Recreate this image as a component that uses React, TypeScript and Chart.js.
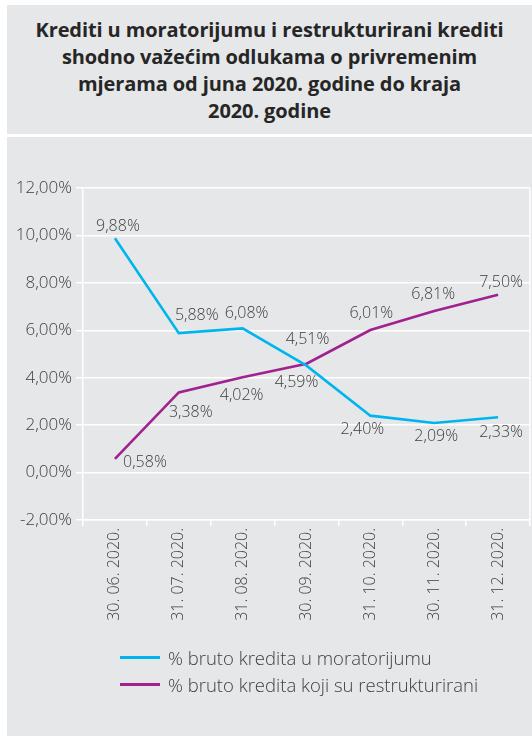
import React, { useEffect, useRef } from "react";
import { Chart, registerables } from "chart.js";

Chart.register(...registerables);

const titleLines = [
  "Krediti u moratorijumu i restrukturirani krediti",
  "shodno važećim odlukama o privremenim",
  "mjerama od juna 2020. godine do kraja",
  "2020. godine",
];
const categories = [
  "30. 06. 2020.",
  "31. 07. 2020.",
  "31. 08. 2020.",
  "30. 09. 2020.",
  "31. 10. 2020.",
  "30. 11. 2020.",
  "31. 12. 2020.",
];
const seriesNames = [
  "% bruto kredita u moratorijumu",
  "% bruto kredita koji su restrukturirani",
];
const moratoriumValues = [9.88, 5.88, 6.08, 4.51, 2.4, 2.09, 2.33];
const restructuredValues = [0.58, 3.38, 4.02, 4.59, 6.01, 6.81, 7.5];
const yMin = -2;
const yMax = 12;
const yStep = 2;

// label offsets (style only), [dx, dy] in px relative to each point
const moratoriumLabelOffsets = [
  [3, -12], [18, -18], [4, -15], [1, -26], [-8, 14], [2, 13], [3, 15],
];
const restructuredLabelOffsets = [
  [30, 4], [12, 20], [-1, 18], [-10, 19], [1, -17], [-1, -17], [3, -12],
];

const BLUE = "#00b5ef";
const PURPLE = "#a0218f";
const PANEL = "#e6e7e8";
const TEXT = "#404040";
const FONT = "'Open Sans', 'Noto Sans', sans-serif";

const fmt = (v: number) => v.toFixed(2).replace(".", ",") + "%";

export default function App() {
  const ref = useRef<HTMLCanvasElement | null>(null);

  useEffect(() => {
    if (!ref.current) return;
    const offsets = [moratoriumLabelOffsets, restructuredLabelOffsets];
    const labelPlugin = {
      id: "valueLabels",
      afterDatasetsDraw(chart: any) {
        const ctx = chart.ctx;
        ctx.save();
        ctx.font = `300 16px ${FONT}`;
        ctx.fillStyle = TEXT;
        ctx.textAlign = "center";
        ctx.textBaseline = "middle";
        chart.data.datasets.forEach((ds: any, di: number) => {
          const meta = chart.getDatasetMeta(di);
          meta.data.forEach((pt: any, i: number) => {
            const [dx, dy] = offsets[di][i];
            ctx.fillText(fmt(ds.data[i]), pt.x + dx, pt.y + dy);
          });
        });
        ctx.restore();
      },
    };
    const borderPlugin = {
      id: "rightBorder",
      beforeDatasetsDraw(chart: any) {
        const { ctx, chartArea } = chart;
        ctx.save();
        ctx.strokeStyle = "#ffffff";
        ctx.lineWidth = 1.5;
        ctx.beginPath();
        ctx.moveTo(chartArea.right, chartArea.top);
        ctx.lineTo(chartArea.right, chartArea.bottom);
        ctx.stroke();
        ctx.restore();
      },
    };
    const chart = new Chart(ref.current, {
      type: "line",
      data: {
        labels: categories,
        datasets: [
          {
            label: seriesNames[0],
            data: moratoriumValues,
            borderColor: BLUE,
            backgroundColor: BLUE,
            borderWidth: 2.6,
            pointRadius: 0,
            tension: 0,
          },
          {
            label: seriesNames[1],
            data: restructuredValues,
            borderColor: PURPLE,
            backgroundColor: PURPLE,
            borderWidth: 2.6,
            pointRadius: 0,
            tension: 0,
          },
        ],
      },
      options: {
        animation: false,
        responsive: true,
        maintainAspectRatio: false,
        layout: { padding: { top: 51, right: 2, bottom: 116, left: 0 } },
        plugins: {
          legend: { display: false },
          tooltip: { enabled: false },
          title: { display: false },
        },
        scales: {
          x: {
            offset: true,
            grid: {
              offset: true,
              drawOnChartArea: false,
              color: "#ffffff",
              lineWidth: 1.5,
              tickLength: 6,
            },
            border: { color: "#ffffff", width: 1.5 },
            ticks: {
              minRotation: 90,
              maxRotation: 90,
              autoSkip: false,
              padding: 2,
              color: TEXT,
              font: { family: FONT, size: 16, weight: "300" as any },
            },
            afterFit(scale: any) {
              scale.height = 100;
            },
          },
          y: {
            min: yMin,
            max: yMax,
            grid: {
              color: "#ffffff",
              lineWidth: 1.5,
              tickLength: 7,
            },
            border: { color: "#ffffff", width: 1.5 },
            ticks: {
              stepSize: yStep,
              padding: 4,
              color: TEXT,
              font: { family: FONT, size: 17, weight: "300" as any },
              callback: (v: any) => fmt(Number(v)),
            },
            afterFit(scale: any) {
              scale.width = 76;
            },
          },
        },
      },
      plugins: [borderPlugin, labelPlugin],
    });
    return () => chart.destroy();
  }, []);

  const colors = [BLUE, PURPLE];

  return (
    <div
      style={{
        position: "absolute",
        left: 0,
        top: 0,
        width: 532,
        height: 736,
        background: "#ffffff",
        overflow: "hidden",
        fontFamily: FONT,
      }}
    >
      <div
        style={{
          position: "absolute",
          left: 7,
          top: 5,
          width: 525,
          height: 129,
          background: PANEL,
          display: "flex",
          flexDirection: "column",
          alignItems: "center",
          justifyContent: "center",
        }}
      >
        {titleLines.map((t, i) => (
          <div
            key={i}
            style={{
              fontWeight: 700,
              fontSize: 20,
              lineHeight: "27px",
              color: "#262626",
              whiteSpace: "nowrap",
              letterSpacing: -0.1,
            }}
          >
            {t}
          </div>
        ))}
      </div>
      <div
        style={{
          position: "absolute",
          left: 7,
          top: 137,
          width: 525,
          height: 599,
          background: PANEL,
        }}
      >
        <div style={{ position: "absolute", left: 0, top: 0, width: 525, height: 599 }}>
          <canvas ref={ref} />
        </div>
        {seriesNames.map((name, i) => (
          <div
            key={i}
            style={{
              position: "absolute",
              left: 113,
              top: 507 + i * 27,
              height: 26,
              display: "flex",
              alignItems: "center",
              whiteSpace: "nowrap",
            }}
          >
            <div style={{ width: 40, height: 3, background: colors[i], marginRight: 8 }} />
            <span style={{ fontSize: 18.5, fontWeight: 300, color: TEXT }}>{name}</span>
          </div>
        ))}
      </div>
    </div>
  );
}
